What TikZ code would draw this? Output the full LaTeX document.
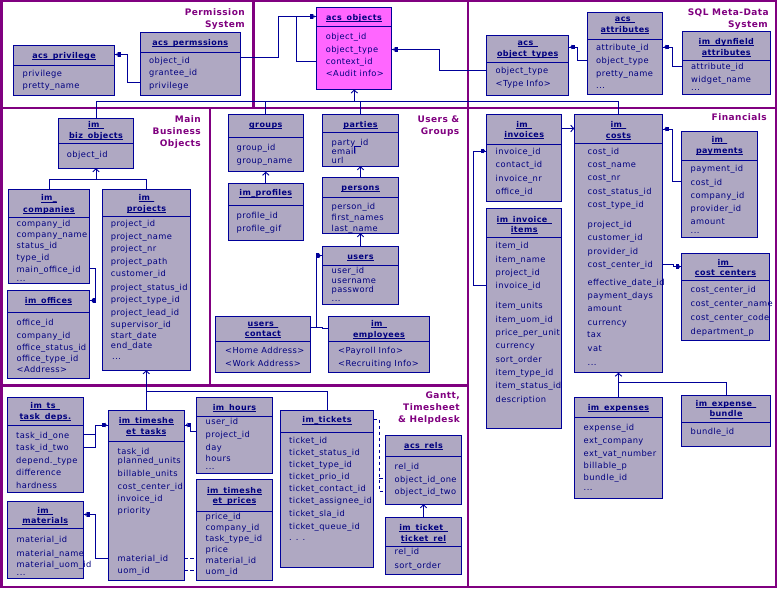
\documentclass[tikz,border=0pt]{standalone}
\usepackage{fontspec}
\setmainfont{DejaVu Sans}
\newfontfamily\bodyf[LetterSpace=5]{DejaVu Sans}
\newfontfamily\secf[LetterSpace=5]{DejaVu Sans}
\usetikzlibrary{arrows.meta}
\catcode`\_=12
\definecolor{framec}{HTML}{800080}
\definecolor{linec}{HTML}{000099}
\definecolor{textc}{HTML}{00007F}
\definecolor{boxc}{HTML}{AFA8C2}
\definecolor{hotc}{HTML}{FF66FF}
\newcounter{lbl}
\tikzset{
  frameline/.style={draw=framec,line width=2.6pt},
  tline/.style={draw=linec,line width=0.9pt},
  tablebox/.style={draw=linec,line width=0.9pt,inner sep=0pt,outer sep=0pt,fill=boxc},
  attrtext/.style={anchor=base west,inner sep=0pt,text=textc,font=\fontsize{8.3pt}{9pt}\bodyf},
  titletext/.style={anchor=base,inner sep=0pt,text=textc,font=\fontsize{8pt}{9pt}\bodyf\bfseries},
  sectext/.style={anchor=base east,inner sep=0pt,text=framec,font=\fontsize{9pt}{10pt}\secf\bfseries},
  conn/.style={draw=linec,line width=0.9pt},
  filltip/.style={conn,-{Square[length=3pt,width=4.6pt,line width=0pt,sep=0pt]Triangle[length=1.6pt,width=4.6pt,line width=0pt,sep=0pt]Square[length=1.6pt,width=0.9pt,line width=0pt,sep=0pt]}},
  opentip/.style={conn,-{Straight Barb[length=3pt,width=6.5pt]}},
  dashconn/.style={conn,dash pattern=on 3.5pt off 2.5pt},
}
% name, x1, y1, x2, y2, divider y, fill
\newcommand{\tblbox}[7][boxc]{%
  \node[tablebox,fill=#1,minimum width={(#4-#2)*1pt},minimum height={(#5-#3)*1pt}] (#6) at ({(#2+#4)/2},{(#3+#5)/2}) {};
  \draw[tline] (#6.west |- 0,#7) -- (#6.east |- 0,#7);
}
\newcommand{\ttl}[3]{\stepcounter{lbl}\node[titletext] (t\arabic{lbl}) at ([yshift=-3.2pt]#1.center |- 0,#2) {\underline{\smash{#3}}};}
\newcommand{\att}[3]{\stepcounter{lbl}\node[attrtext] (a\arabic{lbl}) at ([yshift=-3.2pt]#1,#2) {#3};}
\newcommand{\sect}[2]{\stepcounter{lbl}\node[sectext] (s\arabic{lbl}) at ([yshift=-3.2pt]#1) {#2};}
\begin{document}
\begin{tikzpicture}[x=1pt,y=-1pt]
\useasboundingbox (0,0) rectangle (781,593);
\fill[white] (0,0) rectangle (781,593);
% frames
\draw[frameline] (1.3,0.6) rectangle (776,587);
\draw[frameline] (0,108) -- (776,108);
\draw[frameline] (0,385.7) -- (468,385.7);
\draw[frameline] (253.5,0) -- (253.5,108);
\draw[frameline] (468,0) -- (468,587);
\draw[frameline] (210,108) -- (210,385.7);
% section labels
\sect{245,12}{Permission}\sect{245,24}{System}
\sect{201,119}{Main}\sect{201,131}{Business}\sect{201,143}{Objects}
\sect{459.5,119}{Users \&}\sect{459.5,131}{Groups}
\sect{769,12}{SQL Meta-Data}\sect{768,24}{System}
\sect{767,117.5}{Financials}
\sect{460,395.5}{Gantt,}\sect{460,407.5}{Timesheet}\sect{460,419.5}{\& Helpdesk}
% Permission
\tblbox{13.5}{45.5}{114.5}{95.5}{priv}{65.5}
\ttl{priv}{55}{acs_privilege}
\att{22.5}{73}{privilege}\att{22.5}{85}{pretty_name}
\tblbox{140}{32}{240.5}{95.5}{perm}{52}
\ttl{perm}{42}{acs_permssions}
\att{149}{60}{object_id}\att{149}{72}{grantee_id}\att{149}{85}{privilege}
\tblbox[hotc]{316.5}{7.5}{391.5}{89.5}{objects}{26.5}
\ttl{objects}{17}{acs_objects}
\att{325.6}{36}{object_id}\att{325.6}{49}{object_type}\att{325.6}{61}{context_id}\att{325.6}{73}{<Audit info>}
% SQL meta
\tblbox{486.7}{35.7}{568.7}{95.3}{otypes}{62.3}
\ttl{otypes}{42}{acs_}\ttl{otypes}{53}{object_types}
\att{495.5}{70}{object_type}\att{495.5}{83}{<Type Info>}
\tblbox{587.3}{12.7}{662.7}{94.3}{attrs}{39.3}
\ttl{attrs}{18}{acs_}\ttl{attrs}{29}{attributes}
\att{596}{47}{attribute_id}\att{596}{60}{object_type}\att{596}{73}{pretty_name}\att{596}{85}{...}
\tblbox{682.3}{31.7}{770.3}{94.3}{dyn}{60.3}
\ttl{dyn}{41}{im_dynfield}\ttl{dyn}{52}{attributes}
\att{691}{66}{attribute_id}\att{691}{79}{widget_name}\att{691}{87}{...}
% Main business
\tblbox{58.3}{118.3}{133.7}{168.3}{biz}{143.7}
\ttl{biz}{124}{im_}\ttl{biz}{135}{biz_objects}
\att{66.7}{154}{object_id}
\tblbox{8.3}{189.3}{89.7}{283.3}{comp}{217.3}
\ttl{comp}{197.5}{im_}\ttl{comp}{209}{companies}
\att{16.5}{223}{company_id}\att{16.5}{234}{company_name}\att{16.5}{245.5}{status_id}\att{16.5}{257.5}{type_id}\att{16.5}{269}{main_office_id}\att{16.5}{278}{...}
\tblbox{7.3}{290.7}{89.7}{378.3}{offices}{312.3}
\ttl{offices}{300}{im_offices}
\att{16.5}{322}{office_id}\att{16.5}{335}{company_id}\att{16.5}{347}{office_status_id}\att{16.5}{358.5}{office_type_id}\att{16.5}{369.5}{<Address>}
\tblbox{102.3}{189.3}{190.7}{370.3}{proj}{216.3}
\ttl{proj}{197}{im_}\ttl{proj}{208}{projects}
\att{110.7}{223}{project_id}\att{110.7}{236}{project_name}\att{110.7}{248}{project_nr}\att{110.7}{261}{project_path}\att{110.7}{273}{customer_id}\att{110.7}{287}{project_status_id}\att{110.7}{299}{project_type_id}\att{110.7}{312}{project_lead_id}\att{110.7}{324}{supervisor_id}\att{110.7}{335}{start_date}\att{110.7}{345}{end_date}\att{112}{356}{...}
% Users & groups
\tblbox{228.3}{114.3}{303.3}{171.7}{groups}{137.3}
\ttl{groups}{124}{groups}
\att{236.5}{147}{group_id}\att{236.5}{160}{group_name}
\tblbox{228.3}{183.3}{303.3}{240.3}{profiles}{205.3}
\ttl{profiles}{192.5}{im_profiles}
\att{236.5}{215}{profile_id}\att{236.5}{228}{profile_gif}
\tblbox{322.3}{114.3}{398.7}{166.3}{parties}{132.3}
\ttl{parties}{124}{parties}
\att{331.5}{142}{party_id}\att{331.5}{151}{email}\att{331.5}{160}{url}
\tblbox{322.3}{177.3}{398.7}{233.3}{persons}{197.3}
\ttl{persons}{187}{persons}
\att{331.5}{206.5}{person_id}\att{331.5}{217.5}{first_names}\att{331.5}{228}{last_name}
\tblbox{322.3}{246.3}{398.7}{304.3}{users}{265.3}
\ttl{users}{256}{users}
\att{331.5}{270}{user_id}\att{331.5}{280}{username}\att{331.5}{289}{password}\att{331.5}{298}{...}
\tblbox{215.3}{316.3}{310.7}{372.3}{contact}{341.7}
\ttl{contact}{323}{users_}\ttl{contact}{333}{contact}
\att{225}{350.5}{<Home Address>}\att{225}{363.5}{<Work Address>}
\tblbox{328.3}{316.3}{429.7}{372.3}{empl}{341.7}
\ttl{empl}{323}{im_}\ttl{empl}{334}{employees}
\att{338}{350.5}{<Payroll Info>}\att{338}{363.5}{<Recruiting Info>}
% Financials
\tblbox{486.7}{114.3}{561.7}{201.7}{inv}{144.3}
\ttl{inv}{124}{im_}\ttl{inv}{134}{invoices}
\att{495.5}{151}{invoice_id}\att{495.5}{164}{contact_id}\att{495.5}{178}{invoice_nr}\att{495.5}{191}{office_id}
\tblbox{574.3}{114.3}{662.7}{372.7}{costs}{143.3}
\ttl{costs}{124}{im_}\ttl{costs}{135}{costs}
\att{587.5}{151}{cost_id}\att{587.5}{164}{cost_name}\att{587.5}{177}{cost_nr}\att{587.5}{191}{cost_status_id}\att{587.5}{204}{cost_type_id}\att{587.5}{224}{project_id}\att{587.5}{237}{customer_id}\att{587.5}{251}{provider_id}\att{587.5}{264}{cost_center_id}\att{587.5}{282}{effective_date_id}\att{587.5}{295}{payment_days}\att{587.5}{308}{amount}\att{587.5}{322}{currency}\att{587}{334}{tax}\att{587.5}{348}{vat}\att{587.5}{362}{...}
\tblbox{681.7}{131.7}{757.3}{237.3}{pay}{160.3}
\ttl{pay}{139}{im_}\ttl{pay}{150}{payments}
\att{690.5}{168}{payment_id}\att{690.5}{182}{cost_id}\att{690.5}{195}{company_id}\att{690.5}{208}{provider_id}\att{690.5}{221}{amount}\att{690.5}{230}{...}
\tblbox{681.7}{253.3}{769.3}{340.3}{centers}{280.3}
\ttl{centers}{262}{im_}\ttl{centers}{272}{cost_centers}
\att{690.5}{289.5}{cost_center_id}\att{690.5}{303}{cost_center_name}\att{690.5}{317}{cost_center_code}\att{690.5}{331}{department_p}
\tblbox{486.7}{208.3}{561.7}{428.3}{items}{237.3}
\ttl{items}{219}{im_invoice_}\ttl{items}{229}{items}
\att{495.5}{245}{item_id}\att{495.5}{259}{item_name}\att{495.5}{272}{project_id}\att{495.5}{285}{invoice_id}\att{495.5}{305}{item_units}\att{495.5}{319}{item_uom_id}\att{495.5}{332}{price_per_unit}\att{495.5}{345}{currency}\att{495.5}{359}{sort_order}\att{495.5}{372}{item_type_id}\att{495.5}{385}{item_status_id}\att{495.5}{399}{description}
\tblbox{574.3}{397.3}{662.7}{498.3}{exp}{417.3}
\ttl{exp}{407}{im_expenses}
\att{583.5}{427}{expense_id}\att{583.5}{440}{ext_company}\att{583.5}{453}{ext_vat_number}\att{583.5}{465}{billable_p}\att{583.5}{477.5}{bundle_id}\att{583.5}{487}{...}
\tblbox{681.7}{395.3}{770.3}{446.3}{bundle}{422.3}
\ttl{bundle}{403}{im_expense_}\ttl{bundle}{413.5}{bundle}
\att{690.5}{431.5}{bundle_id}
% Gantt
\tblbox{7.3}{397.3}{83.3}{492.3}{deps}{425.3}
\ttl{deps}{405}{im_ts_}\ttl{deps}{416}{task_deps.}
\att{16}{435}{task_id_one}\att{16}{447}{task_id_two}\att{16}{460}{depend._type}\att{16}{472.5}{difference}\att{16}{485}{hardness}
\tblbox{108.3}{410.3}{184.3}{580.3}{tasks}{441.3}
\ttl{tasks}{420}{im_timeshe}\ttl{tasks}{431}{et_tasks}
\att{117.5}{451.5}{task_id}\att{117.5}{460.5}{planned_units}\att{117.5}{473}{billable_units}\att{117.5}{486}{cost_center_id}\att{117.5}{498}{invoice_id}\att{117.5}{510}{priority}\att{117.5}{558.5}{material_id}\att{117.5}{570.5}{uom_id}
\tblbox{196.7}{397.3}{272.3}{473.3}{hours}{416.7}
\ttl{hours}{407}{im_hours}
\att{205.5}{421}{user_id}\att{205.5}{434}{project_id}\att{205.5}{447}{day}\att{205.5}{458}{hours}\att{205.5}{466}{...}
\tblbox{196.7}{479.3}{272.3}{580}{prices}{511.3}
\ttl{prices}{490}{im_timeshe}\ttl{prices}{500}{et_prices}
\att{205.5}{516.5}{price_id}\att{205.5}{527}{company_id}\att{205.5}{538}{task_type_id}\att{205.5}{549}{price}\att{205.5}{560}{material_id}\att{205.5}{571.5}{uom_id}
\tblbox{7.3}{501.7}{83.3}{578.3}{mat}{528.3}
\ttl{mat}{510}{im_}\ttl{mat}{520}{materials}
\att{16.5}{539}{material_id}\att{16.5}{553}{material_name}\att{16.5}{564}{material_uom_id}\att{16.5}{572}{...}
\tblbox{280.3}{410.3}{373.7}{567.3}{tickets}{432.3}
\ttl{tickets}{419.5}{im_tickets}
\att{289}{440.5}{ticket_id}\att{289}{452}{ticket_status_id}\att{289}{464}{ticket_type_id}\att{289}{476}{ticket_prio_id}\att{289}{488}{ticket_contact_id}\att{289}{500}{ticket_assignee_id}\att{289}{513}{ticket_sla_id}\att{289}{526}{ticket_queue_id}\att{289}{537}{. . .}
\tblbox{385.3}{435.3}{461.7}{504.3}{rels}{456.3}
\ttl{rels}{445}{acs_rels}
\att{394.5}{466}{rel_id}\att{394.5}{479}{object_id_one}\att{394.5}{491}{object_id_two}
\tblbox{385.3}{517.3}{461.7}{574}{ticketrel}{546.3}
\ttl{ticketrel}{527}{im_ticket_}\ttl{ticketrel}{538}{ticket_rel}
\att{394.5}{551.5}{rel_id}\att{394.5}{565}{sort_order}
% connectors: upper row
\draw[filltip] (perm.west |- 0,82) -- (127.5,82) -- (127.5,54.5) -- (priv.east |- 0,54.5);
\draw[filltip] (perm.east |- 0,57) -- (278.5,57) -- (278.5,16.5) -- (objects.west |- 0,16.5);
\draw[conn] (objects.west |- 0,61) -- (296.7,61) -- (296.7,16.5);
\draw[filltip] (otypes.west |- 0,70.5) -- (439.5,70.5) -- (439.5,49.5) -- (objects.east |- 0,49.5);
\draw[filltip] (attrs.west |- 0,60.5) -- (577.5,60.5) -- (577.5,47) -- (otypes.east |- 0,47);
\draw[filltip] (dyn.west |- 0,66.5) -- (672.5,66.5) -- (672.5,47) -- (attrs.east |- 0,47);
% bus to acs_objects
\draw[conn] (biz.north) -- (biz.north |- 0,101.5) -- (costs.north |- 0,101.5) -- (costs.north);
\draw[conn] (groups.north) -- (groups.north |- 0,101.5);
\draw[conn] (parties.north) -- (parties.north |- 0,101.5);
\draw[opentip] (354.3,101.5) -- (objects.south -| 354.3,0);
% business
\draw[opentip] (biz.south |- 0,179.5) -- (biz.south);
\draw[conn] (comp.north) -- (comp.north |- 0,179.5) -- (proj.north |- 0,179.5) -- (proj.north);
\draw[filltip] (comp.east |- 0,268.5) -- (95.5,268.5) -- (95.5,300.5) -- (offices.east |- 0,300.5);
\draw[opentip] (tasks.north) -- (proj.south -| tasks.north);
\draw[conn] (tasks.north |- 0,391) -- (tickets.north |- 0,391) -- (tickets.north);
% users & groups
\draw[opentip] (profiles.north) -- (groups.south);
\draw[opentip] (persons.north) -- (parties.south);
\draw[opentip] (users.north) -- (persons.south);
\draw[conn] (354.3,153) -- (354.3,146.7) -- (361,146.7);
\draw[filltip] (contact.east |- 0,327.3) -- (316.7,327.3) -- (316.7,255.7) -- (users.west |- 0,255.7);
\draw[conn] (316.7,327.3) -- (322,327.3) -- (322,328.5) -- (empl.west |- 0,328.5);
% financials
\draw[filltip] (items.west |- 0,285) -- (473,285) -- (473,151) -- (inv.west |- 0,151);
\draw[opentip] (inv.east |- 0,128.5) -- (costs.west |- 0,128.5);
\draw[filltip] (pay.west |- 0,181.7) -- (672.5,181.7) -- (672.5,129) -- (costs.east |- 0,129);
\draw[filltip] (costs.east |- 0,264) -- (673,264) -- (673,266.7) -- (centers.west |- 0,266.7);
\draw[opentip] (exp.north) -- (costs.south);
\draw[conn] (exp.north |- 0,382.4) -- (bundle.north |- 0,382.4) -- (bundle.north);
% gantt
\draw[filltip] (deps.east |- 0,434) -- (95.5,434) -- (95.5,425) -- (tasks.west |- 0,425);
\draw[conn] (deps.east |- 0,447.3) -- (95.5,447.3) -- (95.5,434);
\draw[filltip] (hours.west |- 0,431.5) -- (190.5,431.5) -- (190.5,425) -- (tasks.east |- 0,425);
\draw[dashconn] (tasks.east |- 0,558.3) -- (prices.west |- 0,558.3);
\draw[dashconn] (tasks.east |- 0,570) -- (prices.west |- 0,570);
\draw[filltip] (tasks.west |- 0,558.3) -- (95.7,558.3) -- (95.7,514.5) -- (mat.east |- 0,514.5);
\draw[dashconn] (tickets.east |- 0,419.3) -- (379.3,419.3) -- (379.3,491.5) -- (rels.west |- 0,491.5);
\draw[dashconn] (379.3,478.7) -- (rels.west |- 0,478.7);
\draw[opentip] (ticketrel.north) -- (rels.south -| ticketrel.north);
\end{tikzpicture}
\end{document}
